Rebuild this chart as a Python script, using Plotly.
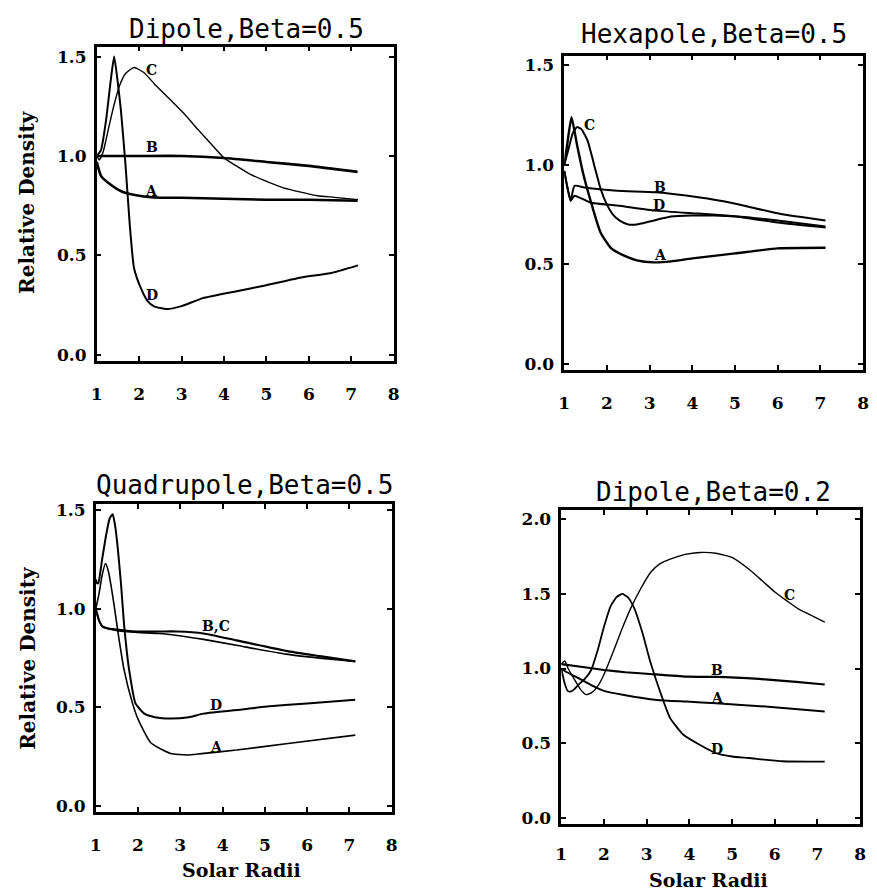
import plotly.graph_objects as go

# ---------------- data ----------------
# Panel 1: Dipole, Beta=0.5
p1_A_x = [1, 1.1, 1.3, 1.6, 2.0, 2.5, 3, 4, 5, 6, 7.15]
p1_A_y = [0.97, 0.90, 0.86, 0.82, 0.80, 0.79, 0.79, 0.785, 0.78, 0.78, 0.775]
p1_B_x = [1, 1.5, 2, 3, 4, 5, 6, 7.15]
p1_B_y = [1.0, 1.0, 1.0, 1.0, 0.99, 0.97, 0.95, 0.92]
p1_C_x = [1, 1.06, 1.15, 1.29, 1.4, 1.53, 1.68, 1.88, 2.11, 2.35, 2.7, 3.05, 3.4, 3.74,
          4.0, 4.29, 4.6, 5.06, 5.4, 5.84, 6.2, 6.61, 7.16]
p1_C_y = [1.0, 0.98, 1.02, 1.15, 1.25, 1.35, 1.415, 1.445, 1.42, 1.365, 1.29, 1.215, 1.13, 1.05,
          0.99, 0.95, 0.91, 0.867, 0.84, 0.817, 0.80, 0.792, 0.78]
p1_D_x = [1, 1.1, 1.22, 1.33, 1.41, 1.49, 1.57, 1.68, 1.78, 1.88, 2.04, 2.2, 2.35, 2.66, 3.0,
          3.5, 4.3, 5.0, 5.85, 6.5, 7.16]
p1_D_y = [1.0, 1.03, 1.18, 1.38, 1.50, 1.38, 1.23, 0.95, 0.65, 0.435, 0.335, 0.27, 0.244, 0.23, 0.245,
          0.285, 0.32, 0.35, 0.39, 0.41, 0.45]

# Panel 2: Hexapole, Beta=0.5
p2_A_x = [1, 1.08, 1.17, 1.3, 1.45, 1.63, 1.85, 2.1, 2.39, 2.7, 3.1, 3.5, 4, 5, 6, 7.12]
p2_A_y = [1.0, 1.12, 1.24, 1.1, 0.95, 0.81, 0.66, 0.58, 0.545, 0.52, 0.51, 0.515, 0.53, 0.555, 0.58, 0.583]
p2_B_x = [1, 1.08, 1.15, 1.24, 1.5, 2.24, 3.15, 4.14, 4.9, 6.05, 7.12]
p2_B_y = [0.97, 0.88, 0.82, 0.895, 0.885, 0.87, 0.862, 0.837, 0.81, 0.754, 0.72]
p2_C_x = [1, 1.1, 1.2, 1.3, 1.4, 1.55, 1.7, 1.85, 2.0, 2.16, 2.3, 2.5, 2.7, 3.0, 3.5, 4.0, 4.5,
          5.0, 6.0, 7.12]
p2_C_y = [1.0, 1.08, 1.16, 1.19, 1.18, 1.12, 1.0, 0.88, 0.80, 0.745, 0.72, 0.70, 0.70, 0.715, 0.74,
          0.745, 0.745, 0.74, 0.71, 0.685]
p2_D_x = [1, 1.08, 1.15, 1.24, 1.62, 2.24, 3.15, 4.14, 5.29, 6, 7.12]
p2_D_y = [0.97, 0.88, 0.82, 0.845, 0.81, 0.796, 0.77, 0.755, 0.737, 0.72, 0.69]

# Panel 3: Quadrupole, Beta=0.5
p3_A_x = [1, 1.08, 1.15, 1.23, 1.3, 1.36, 1.44, 1.52, 1.67, 1.87, 2.0, 2.3, 2.77, 3.16, 3.5,
          4.33, 5.5, 7.14]
p3_A_y = [1.0, 1.08, 1.17, 1.23, 1.19, 1.12, 1.01, 0.89, 0.69, 0.52, 0.44, 0.32, 0.266, 0.258, 0.265,
          0.283, 0.315, 0.359]
p3_B_x = [1, 1.08, 1.16, 1.3, 1.48, 1.68, 2, 2.5, 2.93, 3.55, 4.33, 5.5, 6.3, 7.14]
p3_B_y = [1.0, 0.94, 0.91, 0.90, 0.895, 0.89, 0.885, 0.885, 0.885, 0.875, 0.84, 0.787, 0.76, 0.733]
p3_C_x = [1, 1.08, 1.16, 1.3, 1.48, 1.68, 2, 2.5, 2.93, 3.55, 4.33, 5.5, 6.3, 7.14]
p3_C_y = [1.0, 0.94, 0.91, 0.90, 0.89, 0.885, 0.88, 0.875, 0.865, 0.845, 0.815, 0.77, 0.75, 0.733]
p3_D_x = [1, 1.03, 1.06, 1.15, 1.25, 1.33, 1.40, 1.46, 1.52, 1.6, 1.67, 1.79, 1.94, 2.15, 2.4,
          2.77, 3.2, 3.55, 4.5, 5.11, 6, 7.14]
p3_D_y = [1.15, 1.13, 1.13, 1.25, 1.38, 1.46, 1.48, 1.42, 1.31, 1.12, 0.92, 0.69, 0.52, 0.468, 0.45,
          0.443, 0.45, 0.468, 0.49, 0.505, 0.52, 0.538]

# Panel 4: Dipole, Beta=0.2
p4_A_x = [1, 1.1, 1.3, 1.5, 1.7, 2, 2.47, 3.24, 3.93, 4.63, 5.78, 7.17]
p4_A_y = [1.0, 0.98, 0.95, 0.92, 0.889, 0.85, 0.822, 0.789, 0.778, 0.767, 0.745, 0.711]
p4_B_x = [1, 1.5, 2, 2.5, 3, 3.93, 4.63, 5.63, 6.5, 7.17]
p4_B_y = [1.03, 1.01, 0.99, 0.975, 0.965, 0.945, 0.944, 0.93, 0.91, 0.893]
p4_C_x = [1, 1.08, 1.16, 1.3, 1.45, 1.58, 1.72, 1.85, 2.0, 2.2, 2.4, 2.62, 2.85, 3.09, 3.3, 3.55,
          3.9, 4.24, 4.62, 5.01, 5.39, 5.7, 6.01, 6.3, 6.55, 6.9, 7.17]
p4_C_y = [1.03, 1.05, 1.0, 0.93, 0.86, 0.825, 0.84, 0.88, 0.96, 1.1, 1.25, 1.40, 1.53, 1.644, 1.70,
          1.733, 1.765, 1.778, 1.773, 1.744, 1.667, 1.59, 1.511, 1.45, 1.40, 1.35, 1.311]
p4_D_x = [1, 1.08, 1.15, 1.22, 1.3, 1.4, 1.55, 1.7, 1.85, 2.0, 2.16, 2.3, 2.43, 2.55, 2.7, 2.9,
          3.09, 3.32, 3.55, 3.86, 4.24, 4.62, 5.0, 5.39, 6.17, 7.17]
p4_D_y = [1.0, 0.9, 0.85, 0.845, 0.86, 0.89, 0.93, 0.99, 1.12, 1.28, 1.42, 1.48, 1.50, 1.48, 1.41, 1.24,
          1.04, 0.84, 0.667, 0.556, 0.489, 0.433, 0.41, 0.40, 0.378, 0.375]

titles = ["Dipole,Beta=0.5", "Hexapole,Beta=0.5", "Quadrupole,Beta=0.5", "Dipole,Beta=0.2"]
x_ticks = [1, 2, 3, 4, 5, 6, 7, 8]
y_ticks_a = [0.0, 0.5, 1.0, 1.5]
y_ticks_b = [0.0, 0.5, 1.0, 1.5, 2.0]
y_title = "Relative Density"
x_title = "Solar Radii"

# curve labels: (panel, text, x, y)
curve_labels = [
    (1, "C", 2.3, 1.43), (1, "B", 2.3, 1.045), (1, "A", 2.3, 0.825), (1, "D", 2.3, 0.30),
    (2, "C", 1.6, 1.20), (2, "B", 3.25, 0.89), (2, "D", 3.22, 0.80), (2, "A", 3.25, 0.545),
    (3, "B,C", 3.85, 0.915), (3, "D", 3.85, 0.51), (3, "A", 3.85, 0.30),
    (4, "C", 6.35, 1.49), (4, "B", 4.65, 0.99), (4, "A", 4.65, 0.80), (4, "D", 4.65, 0.46),
]

# ---------------- figure ----------------
W, H = 877, 895
fig = go.Figure()

panels = {
    1: dict(xpx=(92, 393), ypx=(43, 360), yr=[-0.03, 1.55], yt=y_ticks_a, so=16),
    2: dict(xpx=(566, 869), ypx=(52, 369), yr=[-0.03, 1.55], yt=y_ticks_a, so=16),
    3: dict(xpx=(91, 391), ypx=(505, 815), yr=[-0.03, 1.53], yt=y_ticks_a, so=16),
    4: dict(xpx=(563, 866), ypx=(511, 827), yr=[-0.04, 2.06], yt=y_ticks_b, so=13),
}

series = {
    1: [(p1_A_x, p1_A_y, 2.6), (p1_B_x, p1_B_y, 2.6), (p1_C_x, p1_C_y, 1.4), (p1_D_x, p1_D_y, 2.0)],
    2: [(p2_A_x, p2_A_y, 2.4), (p2_B_x, p2_B_y, 2.0), (p2_C_x, p2_C_y, 2.0), (p2_D_x, p2_D_y, 2.0)],
    3: [(p3_A_x, p3_A_y, 1.6), (p3_B_x, p3_B_y, 2.2), (p3_C_x, p3_C_y, 1.6), (p3_D_x, p3_D_y, 2.0)],
    4: [(p4_A_x, p4_A_y, 2.0), (p4_B_x, p4_B_y, 2.2), (p4_C_x, p4_C_y, 1.4), (p4_D_x, p4_D_y, 1.8)],
}

tickfont = dict(family="DejaVu Serif", size=17, color="black", weight="bold")

for k, p in panels.items():
    xa = "xaxis" if k == 1 else f"xaxis{k}"
    ya = "yaxis" if k == 1 else f"yaxis{k}"
    xr = "x" if k == 1 else f"x{k}"
    yr = "y" if k == 1 else f"y{k}"
    for (xs, ys, w) in series[k]:
        fig.add_trace(go.Scatter(x=xs, y=ys, mode="lines", xaxis=xr, yaxis=yr,
                                 line=dict(color="black", width=w, shape="spline", smoothing=0.5),
                                 showlegend=False, hoverinfo="skip"))
    fig.layout[xa] = dict(
        domain=[p["xpx"][0] / W, p["xpx"][1] / W], anchor=yr, range=[1, 8],
        tickvals=x_ticks, ticktext=[str(v) for v in x_ticks], tickfont=tickfont,
        showline=True, linecolor="black", linewidth=2.5, mirror="ticks",
        ticks="inside", ticklen=5, tickwidth=1.5, tickcolor="black",
        showgrid=False, zeroline=False, ticklabelstandoff=p["so"],
    )
    fig.layout[ya] = dict(
        domain=[1 - p["ypx"][1] / H, 1 - p["ypx"][0] / H], anchor=xr, range=p["yr"],
        tickvals=p["yt"], ticktext=[f"{v:.1f}" for v in p["yt"]], tickfont=tickfont,
        showline=True, linecolor="black", linewidth=2.5, mirror="ticks",
        ticks="inside", ticklen=5, tickwidth=1.5, tickcolor="black",
        showgrid=False, zeroline=False, ticklabelstandoff=4,
    )

ann = []
title_pos = [(244, 25), (718, 30), (242, 485), (717, 492)]
for t, (px, py) in zip(titles, title_pos):
    ann.append(dict(text=t, x=px / W, y=1 - py / H, xref="paper", yref="paper",
                    showarrow=False, xanchor="center", yanchor="middle",
                    font=dict(family="DejaVu Sans Mono", size=26, color="black")))
for (px, py) in [(22, 200), (22, 660)]:
    ann.append(dict(text=y_title, x=px / W, y=1 - py / H, xref="paper", yref="paper",
                    showarrow=False, textangle=-90, xanchor="center", yanchor="middle",
                    font=dict(family="DejaVu Serif", size=20, color="black", weight="bold")))
for (px, py) in [(239, 874), (712, 884)]:
    ann.append(dict(text=x_title, x=px / W, y=1 - py / H, xref="paper", yref="paper",
                    showarrow=False, xanchor="center", yanchor="middle",
                    font=dict(family="DejaVu Serif", size=19, color="black", weight="bold")))
for (k, t, lx, ly) in curve_labels:
    ann.append(dict(text=t, x=lx, y=ly, xref="x" if k == 1 else f"x{k}",
                    yref="y" if k == 1 else f"y{k}", showarrow=False,
                    xanchor="center", yanchor="middle",
                    font=dict(family="DejaVu Serif", size=14, color="black", weight="bold")))

fig.update_layout(
    width=W, height=H, margin=dict(l=0, r=0, t=0, b=0),
    paper_bgcolor="white", plot_bgcolor="white", annotations=ann,
)

fig.write_html("out.html", config={"displayModeBar": False},
               post_script="document.body.style.margin='0';document.body.style.overflow='hidden';")
